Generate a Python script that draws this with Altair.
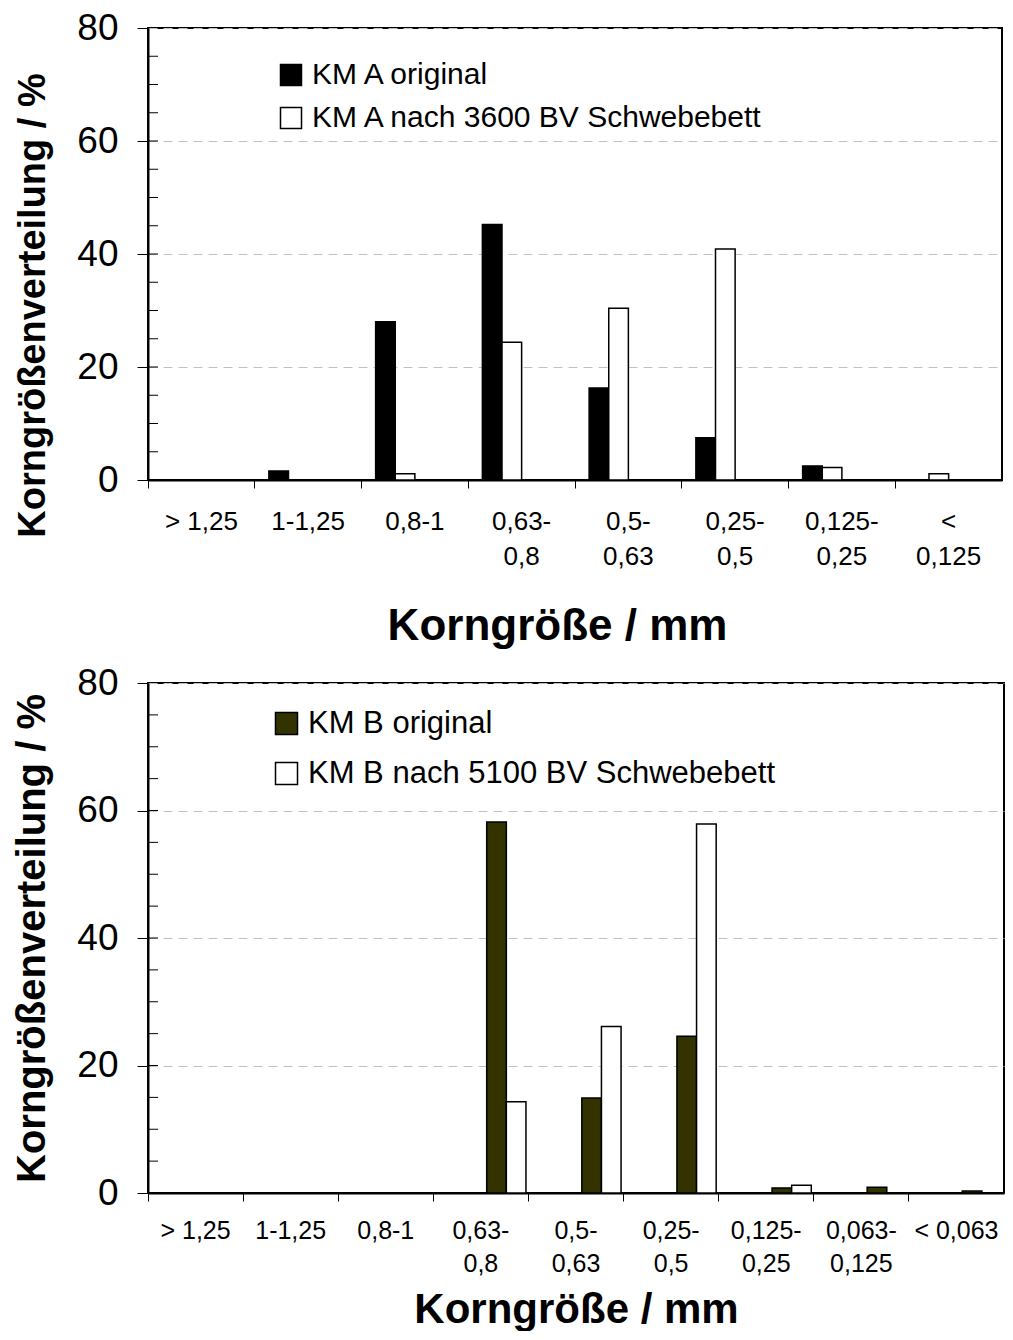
import altair as alt
import pandas as pd

FONT = "Liberation Sans"

# ---------------- data ----------------
cats_a = ["> 1,25", "1-1,25", "0,8-1", "0,63-|0,8", "0,5-|0,63", "0,25-|0,5", "0,125-|0,25", "<|0,125"]
series_a = ["KM A original", "KM A nach 3600 BV Schwebebett"]
a_orig = [0, 1.6, 28.0, 45.2, 16.3, 7.5, 2.5, 0]
a_nach = [0, 0, 1.1, 24.4, 30.4, 40.9, 2.2, 1.1]

cats_b = ["> 1,25", "1-1,25", "0,8-1", "0,63-|0,8", "0,5-|0,63", "0,25-|0,5", "0,125-|0,25", "0,063-|0,125", "< 0,063"]
series_b = ["KM B original", "KM B nach 5100 BV Schwebebett"]
b_orig = [0, 0, 0, 58.2, 14.9, 24.6, 0.8, 0.9, 0.3]
b_nach = [0, 0, 0, 14.3, 26.1, 57.9, 1.2, 0, 0]

y_major = [0, 20, 40, 60, 80]
y_minor = [5, 10, 15, 20, 25, 30, 35, 40, 45, 50, 55, 60, 65, 70, 75]


def panel(cats, series, orig, nach, colors, width, height, offset_pad,
          x_label_size, x_line_h, x_label_pad, x_title, x_title_size, x_title_pad, x_title_xy,
          y_title, y_title_size, y_title_y, leg_x, leg_y, leg_font, leg_row_pad, leg_sym):
    rows = []
    for c, v in zip(cats, orig):
        rows.append({"cat": c, "series": series[0], "value": v})
    for c, v in zip(cats, nach):
        rows.append({"cat": c, "series": series[1], "value": v})
    df = pd.DataFrame(rows)

    y_axis_kw = dict(
        values=y_major, tickSize=11, labelPadding=19, labelFontSize=37, labelFont=FONT,
        labelColor="black", title=y_title, titleFontSize=y_title_size, titleFont=FONT,
        titleFontWeight="bold", titleColor="black", titlePadding=24,
        grid=True, gridDash=[9, 6], gridColor="#c0c0c0", gridWidth=1,
        domainColor="black", domainWidth=2, tickColor="black", tickWidth=1,
    )
    if y_title_y is not None:
        y_axis_kw["titleY"] = y_title_y

    x_axis_kw = dict(
        title=x_title, labelAngle=0, bandPosition=0,
        tickSize=8, tickColor="black", tickWidth=1, labelPadding=x_label_pad,
        labelFontSize=x_label_size, labelFont=FONT, labelColor="black",
        labelLineHeight=x_line_h, labelExpr="split(datum.label, '|')",
        titleFontSize=x_title_size, titleFont=FONT, titleFontWeight="bold",
        titleColor="black", titlePadding=x_title_pad,
        domainColor="black", domainWidth=2, grid=False,
    )
    if x_title_xy is not None:
        x_axis_kw["titleX"] = x_title_xy[0]
        x_axis_kw["titleY"] = x_title_xy[1]

    yscale = alt.Scale(domain=[0, 80], nice=False)

    bars = alt.Chart(df).transform_filter("datum.value > 0").mark_bar(
        stroke="black", strokeWidth=1.5
    ).encode(
        x=alt.X("cat:N", sort=cats, scale=alt.Scale(domain=cats, paddingInner=0, paddingOuter=0),
                axis=alt.Axis(**x_axis_kw)),
        xOffset=alt.XOffset("series:N", sort=series,
                            scale=alt.Scale(domain=series, paddingInner=0, paddingOuter=offset_pad)),
        y=alt.Y("value:Q", scale=yscale, axis=alt.Axis(**y_axis_kw)),
        color=alt.Color("series:N", sort=series,
                        scale=alt.Scale(domain=series, range=colors),
                        legend=alt.Legend(orient="none", legendX=leg_x, legendY=leg_y, title=None,
                                          symbolType="square", symbolSize=leg_sym * leg_sym,
                                          symbolStrokeColor="black", symbolStrokeWidth=1.5,
                                          symbolOpacity=1, labelFontSize=leg_font, labelFont=FONT,
                                          labelColor="black", labelOffset=6,
                                          rowPadding=leg_row_pad, padding=0, labelLimit=0)),
    )

    minor = alt.Chart(pd.DataFrame({"t": y_minor})).mark_rule(color="black", strokeWidth=1).encode(
        y=alt.Y("t:Q", scale=yscale),
        x=alt.value(0), x2=alt.value(10),
    )
    return alt.layer(bars, minor).properties(width=width, height=height)


top = panel(cats_a, series_a, a_orig, a_nach, ["#000000", "#ffffff"], 854, 452, 0.72,
            26, 35, 20, "Korngröße / mm", 44, 30, (409, 124),
            "Korngrößenverteilung / %", 38, 277, 128, 32, 30, 13, 21)
bottom = panel(cats_b, series_b, b_orig, b_nach, ["#333300", "#ffffff"], 856, 510, 0.78,
               25, 33, 17, "Korngröße / mm", 42, 13, None,
               "Korngrößenverteilung /  %", 40, None, 123, 25, 31, 18, 22)

chart = alt.vconcat(top, bottom, spacing=14).properties(
    padding={"left": 3, "top": 0, "right": 0, "bottom": 0}
).configure(font=FONT).configure_view(stroke="black", strokeWidth=2).resolve_scale(color="independent")

chart.save("out.html", embed_options={"renderer": "svg", "actions": False})
